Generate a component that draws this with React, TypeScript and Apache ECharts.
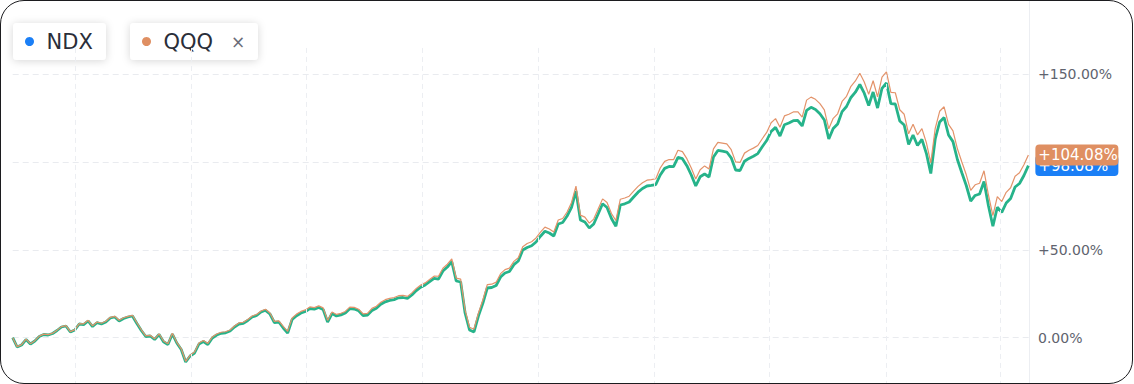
import React, { useEffect, useRef } from "react";
import * as echarts from "echarts";

// weekly closes, % change from the first week (start 2018-03-25)
const START = Date.UTC(2018, 2, 25);
const END = Date.UTC(2022, 7, 15);
const WEEK = 7 * 864e5;

const ndx = [
  0, -5.3, -4.16, -1.03, -3.59, -1.88, 0.68, 1.82, 1.54, 2.39,
  4.1, 6.1, 6.67, 3.25, 4.39, 7.81, 7.5, 9.52, 6.38, 8.55,
  7.81, 8.95, 11.22, 11.79, 9.52, 10.94, 11.79, 12.36, 8.09, 4.1,
  0.68, 0.97, -1.03, 1.82, -2.28, -3.87, 2.11, -3.02, -6.72, -13.85,
  -10.43, -8.72, -3.59, -2.17, -3.87, -0.17, 1.54, 2.51, 2.79, 3.82,
  6.1, 7.81, 8.21, 9.8, 11.79, 12.65, 14.64, 15.61, 13.5, 8.66,
  8.95, 5.53, 2.68, 10.37, 12.54, 14.07, 14.93, 16.64, 16.24, 17.21,
  16.07, 8.95, 13.79, 12.36, 13.0, 14.07, 16.52, 16.35, 15.33, 12.65,
  12.93, 15.5, 16.75, 19.03, 20.46, 21.2, 21.71, 22.73, 22.91, 22.34,
  24.33, 26.89, 28.77, 30.03, 31.91, 33.85, 33.4, 38.01, 40.28, 43.3,
  32.31, 31.74, 14.07, 4.39, 3.25, 12.36, 19.6, 28.32, 28.6, 29.74,
  34.59, 36.87, 37.72, 41.6, 43.7, 49.97, 51.4, 52.36, 54.53, 57.83,
  60.68, 59.66, 57.95, 64.79, 65.64, 69.34, 74.3, 83.59, 67.07, 65.93,
  62.51, 64.79, 70.48, 76.3, 74.19, 67.92, 63.5, 75.61, 76.3, 77.32,
  80.17, 82.91, 85.01, 86.44, 86.78, 87.29, 92.71, 96.47, 97.55, 97.44,
  102.79, 102.0, 98.01, 92.71, 86.44, 91.68, 93.28, 91.57, 102.96, 106.72,
  106.27, 105.81, 102.51, 95.56, 95.27, 100.57, 102.17, 103.42, 104.9, 108.77,
  112.36, 117.49, 119.83, 114.93, 121.37, 122.34, 123.65, 123.76, 120.63, 129.57,
  131.28, 130.03, 127.58, 124.05, 113.22, 119.2, 121.77, 128.83, 131.74, 136.87,
  139.89, 144.27, 139.32, 132.31, 140.0, 130.88, 142.11, 145.13, 133.39, 133.16,
  123.48, 121.2, 110.09, 115.5, 109.52, 113.0, 105.07, 93.56, 113.22, 122.91,
  125.47, 115.5, 111.74, 101.54, 94.02, 86.72, 77.89, 81.03, 81.88, 89.0,
  75.21, 63.5, 74.3, 71.45, 76.75, 79.32, 85.87, 87.86, 92.42, 98.08,
];

const qqq = [
  0, -5.1, -3.96, -0.83, -3.39, -1.68, 0.88, 2.02, 1.74, 2.59,
  4.3, 6.3, 6.87, 3.45, 4.59, 8.01, 7.9, 9.92, 6.78, 8.95,
  8.21, 9.35, 11.62, 12.19, 9.92, 11.34, 12.19, 12.76, 8.49, 4.5,
  1.08, 1.37, -0.63, 2.22, -1.88, -3.47, 2.51, -2.62, -6.32, -13.45,
  -10.03, -8.12, -2.99, -1.57, -3.27, 0.43, 2.14, 3.11, 3.39, 4.42,
  6.7, 8.41, 8.81, 10.4, 12.39, 13.25, 15.24, 16.21, 14.1, 9.26,
  9.55, 6.43, 3.58, 11.27, 13.44, 14.97, 15.83, 17.54, 17.14, 18.11,
  16.97, 9.85, 14.69, 13.26, 13.9, 14.97, 17.42, 17.25, 16.23, 13.55,
  13.83, 16.7, 17.95, 20.23, 21.66, 22.4, 22.91, 23.93, 24.11, 23.54,
  25.53, 28.09, 29.97, 31.23, 33.11, 35.05, 35.0, 39.61, 41.88, 44.9,
  33.91, 33.34, 15.67, 5.99, 4.85, 13.96, 21.5, 30.22, 30.5, 31.64,
  36.49, 38.77, 39.62, 43.5, 45.6, 51.87, 53.7, 54.66, 56.83, 60.13,
  62.98, 61.96, 60.25, 67.09, 67.94, 71.64, 77.1, 86.39, 69.87, 68.73,
  65.31, 67.59, 73.28, 79.1, 76.99, 70.72, 66.8, 78.91, 79.6, 80.62,
  83.47, 86.21, 88.31, 89.74, 90.08, 90.59, 96.71, 100.47, 101.55, 101.44,
  106.79, 106.0, 102.01, 96.71, 90.44, 95.68, 97.88, 96.17, 107.56, 111.32,
  110.87, 110.41, 107.11, 100.16, 99.87, 105.17, 106.77, 108.02, 109.5, 113.37,
  116.96, 122.49, 124.83, 119.93, 126.37, 127.34, 128.65, 128.76, 125.63, 135.37,
  137.08, 135.83, 133.38, 129.85, 119.02, 125.0, 127.57, 134.63, 137.54, 143.27,
  146.29, 150.67, 145.72, 138.71, 146.4, 137.28, 148.51, 151.53, 139.79, 139.56,
  129.88, 127.3, 116.19, 121.6, 115.62, 119.1, 111.17, 99.66, 119.32, 129.01,
  131.57, 121.6, 117.84, 107.64, 100.12, 92.82, 83.99, 87.13, 87.98, 95.1,
  81.31, 69.6, 80.4, 77.55, 82.85, 85.42, 91.97, 93.96, 98.52, 104.08,
];

const gridDates = [
  Date.UTC(2018, 6, 1), Date.UTC(2019, 0, 1), Date.UTC(2019, 6, 1),
  Date.UTC(2020, 0, 1), Date.UTC(2020, 6, 1), Date.UTC(2021, 0, 1),
  Date.UTC(2021, 6, 1), Date.UTC(2022, 0, 1), Date.UTC(2022, 6, 1),
];

// tick labels visible on the right-hand scale (the +100% one is covered by the price tags)
const shownTicks = [0, 50, 150];

const legendItems = [
  { name: "NDX", color: "#1b7ff6", closable: false },
  { name: "QQQ", color: "#df8f62", closable: true },
];

const FONT = '"DejaVu Sans", sans-serif';
const fmt = (v: number) => (v > 0 ? "+" : "") + v.toFixed(2) + "%";

// chart canvas is taller than the visible frame and shifted up by OFF px
const OFF = 20;
const CH = 480;

export default function App() {
  const ref = useRef<HTMLDivElement>(null);
  useEffect(() => {
    const chart = echarts.init(ref.current!, null, { renderer: "svg" });
    const dates = ndx.map((_, i) => START + i * WEEK);
    const ndxData = ndx.map((v, i) => [dates[i], v]);
    const qqqData = qqq.map((v, i) => [dates[i], v]);

    const legendGraphics: any[] = [];
    const boxes = [
      { x: 13, w: 93 },
      { x: 130, w: 128 },
    ];
    legendItems.forEach((it, k) => {
      const b = boxes[k];
      const children: any[] = [
        {
          type: "rect",
          shape: { x: 0, y: 0, width: b.w, height: 37, r: 4 },
          style: {
            fill: "#ffffff",
            shadowBlur: 8,
            shadowColor: "rgba(0,0,0,0.16)",
            shadowOffsetY: 1,
          },
        },
        {
          type: "circle",
          shape: { cx: 16.5, cy: 18.5, r: 4.5 },
          style: { fill: it.color },
        },
        {
          type: "text",
          style: {
            text: it.name,
            x: 33.5,
            y: 19,
            fill: "#2a2e39",
            fontSize: 21,
            fontFamily: FONT,
            verticalAlign: "middle",
            align: "left",
          },
        },
      ];
      if (it.closable) {
        children.push({
          type: "text",
          style: {
            text: "×",
            x: 108,
            y: 18.5,
            fill: "#6a6d78",
            fontSize: 17,
            fontFamily: FONT,
            verticalAlign: "middle",
            align: "center",
          },
        });
      }
      legendGraphics.push({ type: "group", x: b.x, y: 23 + OFF, z: 100, children });
    });

    // 0% at y=337.7, 1.755 px per %, in visible-frame coordinates
    const top = 337.7 - 200 * 1.755 + OFF;
    const bottom = CH - (337.7 + 50 * 1.755 + OFF);

    const endLabel = (bg: string) => ({
      show: true,
      distance: 7,
      formatter: (p: any) => fmt(p.value[1]),
      backgroundColor: bg,
      color: "#ffffff",
      fontSize: 15,
      fontFamily: FONT,
      width: 77,
      padding: [3, 3],
      borderRadius: 4,
      align: "left",
    });

    chart.setOption({
      animation: false,
      backgroundColor: "#ffffff",
      textStyle: { fontFamily: FONT },
      grid: { left: 12.7, right: 105, top, bottom },
      xAxis: {
        type: "time",
        min: START,
        max: END,
        axisLine: { show: false },
        axisTick: { show: false },
        axisLabel: { show: false },
        splitLine: { show: false },
      },
      yAxis: {
        type: "value",
        position: "right",
        min: -50,
        max: 200,
        interval: 50,
        axisLine: { show: true, lineStyle: { color: "#eceef2", width: 1 } },
        axisTick: { show: false },
        axisLabel: {
          margin: 9,
          color: "#60636e",
          fontSize: 14,
          fontFamily: FONT,
          showMinLabel: false,
          showMaxLabel: false,
          formatter: (v: number) => (shownTicks.includes(v) ? fmt(v) : ""),
        },
        splitLine: {
          show: true,
          lineStyle: { color: "#e9ebef", type: [6, 4], width: 1 },
        },
      },
      graphic: legendGraphics,
      series: [
        {
          type: "line",
          data: [],
          z: 1,
          silent: true,
          markLine: {
            silent: true,
            symbol: ["none", "none"],
            label: { show: false },
            lineStyle: { color: "#eceef2", type: [5, 4], width: 1 },
            data: gridDates.map((d) => [
              { coord: [d, 165.1] },
              { coord: [d, -30] },
            ]),
          },
        },
        {
          name: "NDX",
          type: "line",
          data: ndxData,
          z: 2,
          showSymbol: false,
          symbol: "none",
          lineStyle: { color: "#26b38a", width: 2.8 },
          endLabel: endLabel("#1b7ff6"),
        },
        {
          name: "QQQ",
          type: "line",
          data: qqqData,
          z: 3,
          showSymbol: false,
          symbol: "none",
          lineStyle: { color: "#e3936a", width: 1.2 },
          endLabel: endLabel("#df8f62"),
        },
      ],
    });
    return () => chart.dispose();
  }, []);

  return (
    <div
      style={{
        position: "absolute",
        left: 0,
        top: 0,
        width: 1134,
        height: 384,
        overflow: "hidden",
        background: "#ffffff",
      }}
    >
      <div
        ref={ref}
        style={{ position: "absolute", left: 0, top: -OFF, width: 1134, height: CH }}
      />
      <div
        style={{
          position: "absolute",
          left: 0,
          top: 0,
          width: 1133,
          height: 384,
          boxSizing: "border-box",
          border: "1.5px solid #1c1c1f",
          borderRadius: 24,
          pointerEvents: "none",
        }}
      />
    </div>
  );
}
